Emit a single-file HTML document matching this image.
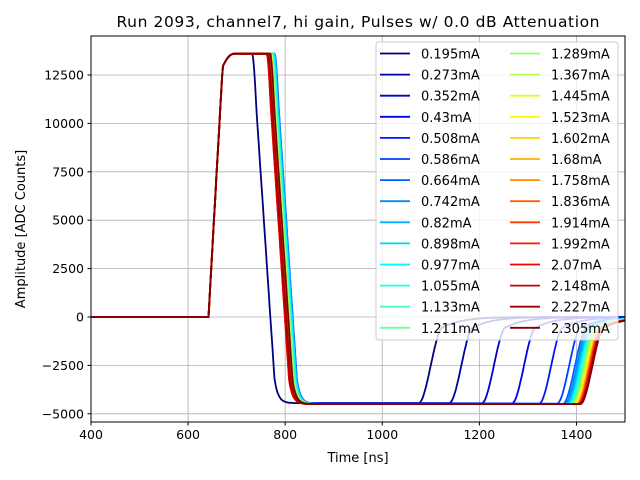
<!DOCTYPE html>
<html><head><meta charset="utf-8">
<style>
body{margin:0;background:#fff;}
svg{display:block;font-family:"DejaVu Sans","Liberation Sans",sans-serif;}
</style></head>
<body>
<svg id="chart" width="640" height="480" viewBox="0 0 640 480" xmlns="http://www.w3.org/2000/svg">
<defs><clipPath id="plotclip"><rect x="91" y="36" width="534" height="386"/></clipPath></defs>
<rect width="640" height="480" fill="#fff"/>
<text x="358" y="27" text-anchor="middle" font-size="15.5" textLength="483">Run 2093, channel7, hi gain, Pulses w/ 0.0 dB Attenuation</text>
<g id="grid"></g>
<g id="series" clip-path="url(#plotclip)"></g>
<rect x="91" y="36" width="534" height="386" fill="none" stroke="#000" stroke-width="1"/>
<g id="ticks"></g>
<text x="358" y="462" text-anchor="middle" font-size="13">Time [ns]</text>
<text transform="translate(25,229) rotate(-90)" text-anchor="middle" font-size="13">Amplitude [ADC Counts]</text>
<g id="legend"></g>
</svg>
<script>
const legendLabels=["0.195mA","0.273mA","0.352mA","0.43mA","0.508mA","0.586mA","0.664mA","0.742mA","0.82mA","0.898mA","0.977mA","1.055mA","1.133mA","1.211mA","1.289mA","1.367mA","1.445mA","1.523mA","1.602mA","1.68mA","1.758mA","1.836mA","1.914mA","1.992mA","2.07mA","2.148mA","2.227mA","2.305mA"];
const fallTimes=[755,792,796,798,800,801,801,800,800,799,798,797,796,795,794,793,792,791,790,789,788,787,786,785,785,786,788,792];
const recoveryTimes=[1100,1163,1230,1292,1348,1385,1397,1401,1404,1407,1409,1411,1413,1415,1417,1419,1421,1422,1424,1425,1426,1427,1428,1429,1430,1431,1432,1433];
const plateauValues=[13600,13600,13600,13600,13600,13600,13600,13600,13600,13600,13600,13600,13600,13600,13600,13600,13600,13600,13600,13600,13600,13600,13600,13600,13600,13600,13600,13600];
const undershootValues=[-4450,-4450,-4460,-4470,-4480,-4480,-4490,-4490,-4490,-4500,-4500,-4500,-4500,-4500,-4500,-4500,-4500,-4500,-4500,-4500,-4500,-4500,-4500,-4500,-4500,-4500,-4500,-4500];
const xTicks=[400,600,800,1000,1200,1400];
const yTicks=[-5000,-2500,0,2500,5000,7500,10000,12500];
const riseStart=642;

const X0=400,X1=1500,PX0=91,PX1=625;
const Y0=-5424,Y1=14514,PY0=422,PY1=36;
const sx=v=>PX0+(v-X0)/(X1-X0)*(PX1-PX0);
const sy=v=>PY0+(v-Y0)/(Y1-Y0)*(PY1-PY0);
const NS="http://www.w3.org/2000/svg";
function mk(tag,attrs,parent){const e=document.createElementNS(NS,tag);for(const k in attrs)e.setAttribute(k,attrs[k]);parent.appendChild(e);return e;}
function jet(x){const c=v=>Math.round(255*Math.max(0,Math.min(1,v)));
 return `rgb(${c(1.5-Math.abs(4*x-3))},${c(1.5-Math.abs(4*x-2))},${c(1.5-Math.abs(4*x-1))})`;}
const grid=document.getElementById('grid'),ticks=document.getElementById('ticks');
xTicks.forEach(t=>{
 const g=mk('line',{x1:sx(t),x2:sx(t),y1:PY1,y2:PY0,stroke:'#b0b0b0','stroke-width':0.8},grid);
 
 
 mk('line',{x1:sx(t),x2:sx(t),y1:PY0,y2:PY0+3.5,stroke:'#000'},ticks);
 const tx=mk('text',{x:sx(t),y:PY0+17,'text-anchor':'middle','font-size':12.5},ticks);tx.textContent=t;
 
 
});
yTicks.forEach(t=>{
 const g=mk('line',{x1:PX0,x2:PX1,y1:sy(t),y2:sy(t),stroke:'#b0b0b0','stroke-width':0.8},grid);
 
 
 mk('line',{x1:PX0-3.5,x2:PX0,y1:sy(t),y2:sy(t),stroke:'#000'},ticks);
 const tx=mk('text',{x:PX0-7,y:sy(t)+4.5,'text-anchor':'end','font-size':12.5},ticks);tx.textContent=t<0?'\u2212'+(-t):t;
 
 
});
const sm=u=>{u=Math.max(0,Math.min(1,u));return u*u*(3-2*u);};
function rise(u){u=Math.max(0,Math.min(1,u)); if(u<0.55)return u/0.55*0.95; const w=(u-0.55)/0.45; return 0.95+0.05*(1-(1-w)*(1-w));}
function val(i,t){
 const P=plateauValues[i],U=undershootValues[i],tf=fallTimes[i],tr=recoveryTimes[i];
 if(t<riseStart)return 0;
 if(t<tf-22){return P*rise((t-riseStart)/(695-riseStart));}
 if(t<tr-25){const u=(t-(tf-22))/60; const f=u<0.75?u/0.75*0.93:0.93+0.07*(1-Math.exp(-(u-0.75)*8)); return P+(U-P)*Math.min(1,f*(u<0.12?u/0.12*0.5+0.5:1));}
 const a=(t-(tr-25))/50; if(a<1)return U+(U*-0.88)*sm(a);
 return U*0.12*Math.exp(-(t-tr-25)/40);
}
const sg=document.getElementById('series');
const N=legendLabels.length;
for(let i=0;i<N;i++){
 let d='';
 for(let t=X0;t<=X1;t+=2){d+=(t===X0?'M':'L')+sx(t).toFixed(1)+','+sy(val(i,t)).toFixed(1);}
 const p=mk('path',{d:d,fill:'none',stroke:jet(i/(N-1)),'stroke-width':1.8,'stroke-linejoin':'round'},sg);
 
 
}
const lg=document.getElementById('legend');
const box=mk('rect',{x:376,y:42,width:242,height:298,rx:3,fill:'#fff','fill-opacity':0.8,stroke:'#ccc'},lg);


const half=Math.ceil(N/2);
for(let i=0;i<N;i++){
 const col=i<half?0:1,row=i%half;
 const lx=col?510:380,ty=53.5+row*21.1;
 const ln=mk('line',{x1:lx,x2:lx+30,y1:ty,y2:ty,stroke:jet(i/(N-1)),'stroke-width':1.8},lg);
 
 
 const tx=mk('text',{x:lx+41,y:ty+5,'font-size':13},lg);tx.textContent=legendLabels[i];
 
 
}
</script>
</body></html>
